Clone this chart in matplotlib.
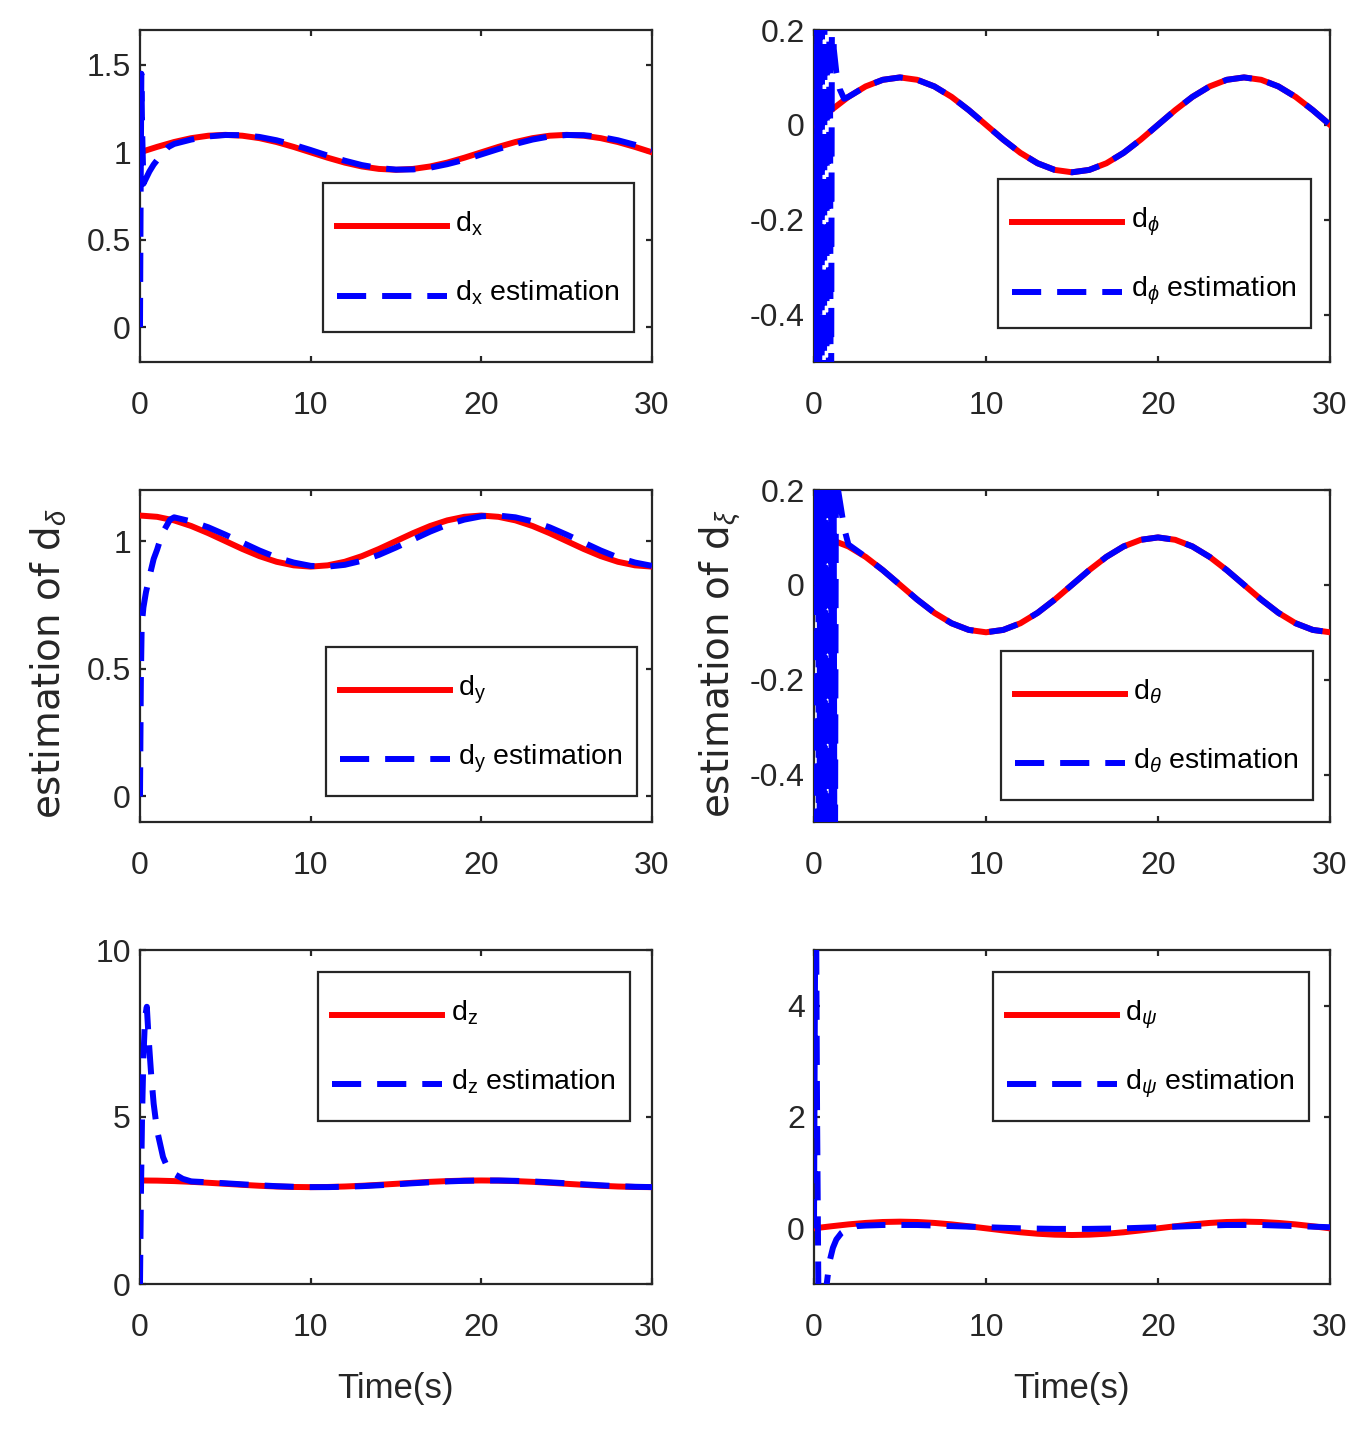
#!/usr/bin/env python3
"""
plot.py -- true disturbances vs. observer estimates (3x2 grid, MATLAB look).
"""

import matplotlib
matplotlib.use('Agg')
import matplotlib.pyplot as plt
from matplotlib.legend_handler import HandlerLine2D
from matplotlib.ticker import FuncFormatter

# ---------------------------------------------------------------------------
# data
# ---------------------------------------------------------------------------
T = list(range(31))     # true signals, 1 s sampling

DX_TRUE = [1.000, 1.031, 1.059, 1.081, 1.095, 1.100, 1.095, 1.081, 1.059, 1.031,
           1.000, 0.969, 0.941, 0.919, 0.905, 0.900, 0.905, 0.919, 0.941, 0.969,
           1.000, 1.031, 1.059, 1.081, 1.095, 1.100, 1.095, 1.081, 1.059, 1.031, 1.000]
DX_EST_T = [0, 0.04, 0.08, 0.12, 0.2, 0.35, 0.55, 0.8, 1.0, 1.3, 1.65] + list(range(2, 31))
DX_EST = [0, 0.8, 1.45, 1.15, 0.82, 0.85, 0.89, 0.93, 0.955, 0.99, 1.03,
          1.048, 1.073, 1.091, 1.099, 1.098, 1.088, 1.069, 1.043, 1.013, 0.981,
          0.952, 0.927, 0.910, 0.901, 0.902, 0.912, 0.932, 0.957, 0.988, 1.019,
          1.048, 1.073, 1.091, 1.099, 1.098, 1.088, 1.069, 1.043, 1.013]

DPHI_TRUE = [0.000, 0.031, 0.059, 0.081, 0.095, 0.100, 0.095, 0.081, 0.059, 0.031,
             0.000, -0.031, -0.059, -0.081, -0.095, -0.100, -0.095, -0.081, -0.059, -0.031,
             0.000, 0.031, 0.059, 0.081, 0.095, 0.100, 0.095, 0.081, 0.059, 0.031, 0.000]
DPHI_EST_T = [0, 0.07, 0.14, 0.21, 0.28, 0.35, 0.42, 0.49, 0.56, 0.63, 0.70, 0.77,
              0.84, 0.91, 0.98, 1.05, 1.15, 1.3, 1.5, 1.75] + list(range(2, 31))
DPHI_EST = [0, 1.2, -1.5, 1.1, -1.4, 1.0, -1.3, 0.9, -1.2, 0.8, -1.1, 0.7,
            -1.0, 0.6, -0.9, 0.4, 0.16, 0.11, 0.075, 0.055] + DPHI_TRUE[2:]

DY_TRUE = [1.100, 1.095, 1.081, 1.059, 1.031, 1.000, 0.969, 0.941, 0.919, 0.905,
           0.900, 0.905, 0.919, 0.941, 0.969, 1.000, 1.031, 1.059, 1.081, 1.095,
           1.100, 1.095, 1.081, 1.059, 1.031, 1.000, 0.969, 0.941, 0.919, 0.905, 0.900]
DY_EST_T = [0, 0.05, 0.1, 0.2, 0.35, 0.6, 0.8, 1.0, 1.3, 1.76] + list(range(2, 31))
DY_EST = [0, 0.45, 0.67, 0.74, 0.8, 0.874, 0.93, 0.966, 1.03, 1.084,
          1.093, 1.077, 1.054, 1.025, 0.994, 0.963, 0.936, 0.916, 0.903, 0.900,
          0.907, 0.923, 0.946, 0.975, 1.006, 1.037, 1.064, 1.084, 1.097, 1.100,
          1.093, 1.077, 1.054, 1.025, 0.994, 0.963, 0.936, 0.916, 0.903]

DTHETA_TRUE = [0.100, 0.095, 0.081, 0.059, 0.031, 0.000, -0.031, -0.059, -0.081, -0.095,
               -0.100, -0.095, -0.081, -0.059, -0.031, 0.000, 0.031, 0.059, 0.081, 0.095,
               0.100, 0.095, 0.081, 0.059, 0.031, 0.000, -0.031, -0.059, -0.081, -0.095, -0.100]
DTHETA_EST_T = [0, 0.075, 0.15, 0.225, 0.3, 0.375, 0.45, 0.525, 0.6, 0.675, 0.75,
                0.825, 0.9, 0.975, 1.05, 1.125, 1.2, 1.3, 1.4, 1.75, 2] + list(range(3, 31))
DTHETA_EST = [0, 1.3, -1.6, 1.2, -1.5, 1.1, -1.4, 1.0, -1.3, 0.9, -1.2,
              0.8, -1.1, 0.7, -1.0, 0.6, -0.9, 0.6, 0.2, 0.12, 0.085] + DTHETA_TRUE[3:]

DZ_TRUE = [3.100, 3.095, 3.081, 3.059, 3.031, 3.000, 2.969, 2.941, 2.919, 2.905,
           2.900, 2.905, 2.919, 2.941, 2.969, 3.000, 3.031, 3.059, 3.081, 3.095,
           3.100, 3.095, 3.081, 3.059, 3.031, 3.000, 2.969, 2.941, 2.919, 2.905, 2.900]
DZ_EST_T = [0, 0.05, 0.12, 0.2, 0.3, 0.4, 0.5, 0.65, 0.8, 1.0, 1.35, 1.6, 1.93, 2.5] + list(range(3, 31))
DZ_EST = [0, 2.5, 5.0, 6.8, 8.0, 8.3, 7.4, 6.3, 5.4, 4.6, 3.8, 3.5, 3.32, 3.15,
          3.071, 3.045, 3.016, 2.984, 2.955, 2.929, 2.911, 2.901, 2.901, 2.911,
          2.929, 2.955, 2.984, 3.016, 3.045, 3.071, 3.089, 3.099, 3.099, 3.089,
          3.071, 3.045, 3.016, 2.984, 2.955, 2.929, 2.911, 2.901]

DPSI_TRUE = [0.000, 0.037, 0.071, 0.097, 0.114, 0.120, 0.114, 0.097, 0.071, 0.037,
             0.000, -0.037, -0.071, -0.097, -0.114, -0.120, -0.114, -0.097, -0.071, -0.037,
             0.000, 0.037, 0.071, 0.097, 0.114, 0.120, 0.114, 0.097, 0.071, 0.037, 0.000]
DPSI_EST_T = [0, 0.05, 0.1, 0.18, 0.3, 0.5, 0.7, 0.9, 1.1, 1.3, 1.6, 1.9, 2.5] + list(range(3, 31))
DPSI_EST = [0, 4, 7, 2, -3, -2, -1.1, -0.6, -0.35, -0.2, -0.08, -0.02, 0.04,
            0.05, 0.06, 0.06, 0.06, 0.05, 0.04, 0.03, 0.02, 0.01, 0.0,
            -0.005, -0.01, -0.01, -0.01, -0.005, 0.0, 0.01, 0.02, 0.03, 0.04,
            0.05, 0.06, 0.06, 0.06, 0.05, 0.04, 0.03, 0.02]

XTICKS = [0, 10, 20, 30]

# ---------------------------------------------------------------------------
# style
# ---------------------------------------------------------------------------
DPI = 100
INK = '#262626'
RED = '#FF0000'
BLUE = '#0000FF'
LW = 4.3
DASH = (21, 11.5)          # points, not scaled by line width

plt.rcParams.update({
    'font.family':        ['Liberation Sans', 'DejaVu Sans'],
    'mathtext.fontset':   'custom',
    'mathtext.rm':        'Liberation Sans',
    'mathtext.it':        'Liberation Sans:italic',
    'mathtext.fallback':  'stixsans',
    'axes.unicode_minus': False,
    'lines.scale_dashes': False,
    'axes.edgecolor':     INK,
    'axes.linewidth':     1.6,
})

# axes rectangles in pixels
COL_X = [(140, 652), (814, 1330)]
ROW_Y = [(30, 362), (490, 822), (950, 1284)]

PANELS = [
    dict(rc=(0, 0), true=DX_TRUE, et=DX_EST_T, est=DX_EST, sub=r'\mathrm{x}',
         ylim=(-0.2, 1.7), yticks=[0, 0.5, 1, 1.5], leg=(0.357, 0.539)),
    dict(rc=(0, 1), true=DPHI_TRUE, et=DPHI_EST_T, est=DPHI_EST, sub=r'\phi',
         ylim=(-0.5, 0.2), yticks=[-0.4, -0.2, 0, 0.2], leg=(0.357, 0.551)),
    dict(rc=(1, 0), true=DY_TRUE, et=DY_EST_T, est=DY_EST, sub=r'\mathrm{y}',
         ylim=(-0.1, 1.2), yticks=[0, 0.5, 1], leg=(0.363, 0.527),
         ylabel=r'estimation of d$_{\delta}$'),
    dict(rc=(1, 1), true=DTHETA_TRUE, et=DTHETA_EST_T, est=DTHETA_EST, sub=r'\theta',
         ylim=(-0.5, 0.2), yticks=[-0.4, -0.2, 0, 0.2], leg=(0.362, 0.515),
         ylabel=r'estimation of d$_{\xi}$'),
    dict(rc=(2, 0), true=DZ_TRUE, et=DZ_EST_T, est=DZ_EST, sub=r'\mathrm{z}',
         ylim=(0, 10), yticks=[0, 5, 10], leg=(0.348, 0.934), xlabel='Time(s)'),
    dict(rc=(2, 1), true=DPSI_TRUE, et=DPSI_EST_T, est=DPSI_EST, sub=r'\psi',
         ylim=(-1, 5), yticks=[0, 2, 4], leg=(0.347, 0.934), xlabel='Time(s)'),
]

W, H = 1372, 1443


class LowLineHandler(HandlerLine2D):
    """Legend line drawn lower in its box (near the text baseline, MATLAB style)."""

    def __init__(self, drop, **kw):
        super().__init__(**kw)
        self.drop = drop        # points

    def create_artists(self, legend, orig_handle, xdescent, ydescent,
                       width, height, fontsize, trans):
        return super().create_artists(legend, orig_handle, xdescent,
                                      ydescent + 2 * self.drop,
                                      width, height, fontsize, trans)


def draw_panel(fig, p):
    r, c = p['rc']
    x0, x1 = COL_X[c]
    y0, y1 = ROW_Y[r]
    ax = fig.add_axes([x0 / W, 1 - y1 / H, (x1 - x0) / W, (y1 - y0) / H])

    ax.plot(T, p['true'], color=RED, lw=LW, zorder=3,
            label=f"d${{_{p['sub']}}}$")
    ax.plot(p['et'], p['est'], color=BLUE, lw=LW, dashes=DASH, zorder=3,
            label=f"d${{_{p['sub']}}}$ estimation")

    ax.set_xlim(0, 30)
    ax.set_ylim(*p['ylim'])
    ax.set_xticks(XTICKS)
    ax.set_yticks(p['yticks'])
    ax.yaxis.set_major_formatter(FuncFormatter(lambda v, _: f'{v:g}'))
    ax.tick_params(direction='in', top=True, right=True, length=4.5, width=1.6,
                   color=INK, labelcolor=INK, labelsize=23)
    ax.tick_params(axis='x', pad=21)
    ax.tick_params(axis='y', pad=6.5)

    if 'ylabel' in p:
        ax.set_ylabel(p['ylabel'], fontsize=28, family=['DejaVu Sans'], color=INK)
        ax.yaxis.set_label_coords(-0.138, 0.476)
    if 'xlabel' in p:
        ax.set_xlabel(p['xlabel'], fontsize=25, color=INK)
        ax.xaxis.set_label_coords(0.5, -0.262)

    hl = LowLineHandler(drop=8.6)
    leg = ax.legend(loc='upper left', bbox_to_anchor=p['leg'], borderaxespad=0,
                    fancybox=False, framealpha=1, edgecolor=INK,
                    prop={'size': 20.5}, handlelength=3.85, handletextpad=0.3,
                    borderpad=0.5, handleheight=2.4, labelspacing=0.62,
                    handler_map={ax.lines[0]: hl, ax.lines[1]: hl})
    leg.get_frame().set_linewidth(1.6)
    leg.set_zorder(5)
    return ax


def main():
    fig = plt.figure(figsize=(W / DPI, H / DPI), dpi=DPI)
    for p in PANELS:
        draw_panel(fig, p)
    fig.savefig('out.png', dpi=DPI)
    plt.close(fig)


if __name__ == '__main__':
    main()
